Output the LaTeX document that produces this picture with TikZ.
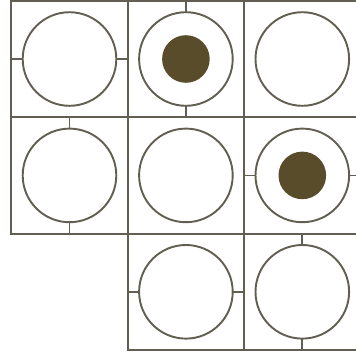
\documentclass[tikz,border=0pt]{standalone}
\usetikzlibrary{positioning}
\definecolor{gridgray}{RGB}{98,95,82}
\definecolor{dotbrown}{RGB}{88,76,42}

\begin{document}
\begin{tikzpicture}[x=0.25mm,y=-0.25mm,
  cellbox/.style={draw=gridgray, line width=0.55mm, minimum size=29.1mm,
                  inner sep=0pt, outer sep=0pt},
  ring/.style={draw=gridgray, circle, line width=0.48mm, minimum size=23.4mm,
               inner sep=0pt, outer sep=0pt},
  dot/.style={fill=dotbrown, circle, minimum size=11.9mm, inner sep=0pt},
  tick/.style={draw=gridgray, line width=0.45mm}]
\useasboundingbox (0,0) rectangle (356,356);
% the grid, an L of eight cells
\node[cellbox] (s00) at (69.5,59) {};
\node[cellbox, right=0pt of s00] (s01) {};
\node[cellbox, right=0pt of s01] (s02) {};
\node[cellbox, below=0pt of s00] (s10) {};
\node[cellbox, right=0pt of s10] (s11) {};
\node[cellbox, right=0pt of s11] (s12) {};
\node[cellbox, below=0pt of s11] (s21) {};
\node[cellbox, right=0pt of s21] (s22) {};
% circles
\node[ring] (r00) at (s00) {};
\node[ring] (r01) at (s01) {};
\node[ring] (r02) at (s02) {};
\node[ring] (r10) at (s10) {};
\node[ring] (r11) at (s11) {};
\node[ring] (r12) at (s12) {};
\node[ring] (r21) at (s21) {};
\node[ring] (r22) at (s22) {};
\node[dot] (d01) at (s01) {};
\node[dot] (d12) at (s12) {};
% ticks between circle and cell wall
\draw[tick] (r00.west) -- (s00.west);
\draw[tick] (r00.east) -- (s00.east);
\draw[tick] (r01.north) -- (s01.north);
\draw[tick] (r01.south) -- (s01.south);
\draw[tick] (r10.north) -- (s10.north);
\draw[tick] (r10.south) -- (s10.south);
\draw[tick] (r12.west) -- (s12.west);
\draw[tick] (r12.east) -- (s12.east);
\draw[tick] (r21.west) -- (s21.west);
\draw[tick] (r21.east) -- (s21.east);
\draw[tick] (r22.north) -- (s22.north);
\draw[tick] (r22.south) -- (s22.south);
\end{tikzpicture}
\end{document}
